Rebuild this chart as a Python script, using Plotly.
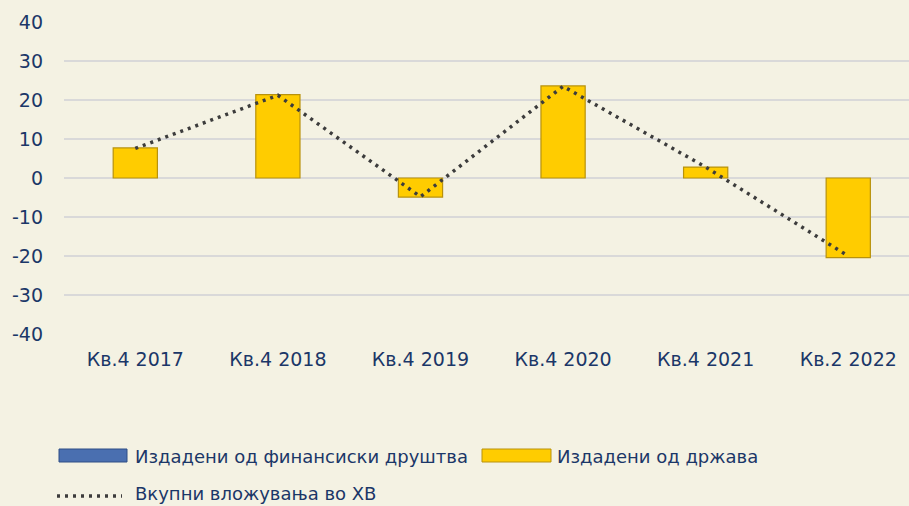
import plotly.graph_objects as go

# data
categories = ["Кв.4 2017", "Кв.4 2018", "Кв.4 2019", "Кв.4 2020", "Кв.4 2021", "Кв.2 2022"]
financial = [0, 0, 0, 0, 0, 0]
government = [7.7, 21.4, -4.9, 23.6, 2.8, -20.4]
total = [7.6, 21.2, -4.8, 23.5, 2.8, -20.0]
y_ticks = [-40, -30, -20, -10, 0, 10, 20, 30, 40]
y_tick_text = ["-40", "-30", "-20", "-10", "0", "10", "20", "30", "40"]

name_fin = "Издадени од финансиски друштва"
name_gov = "Издадени од држава"
name_total = "Вкупни вложувања во ХВ"

BG = "#F4F2E3"
TXT = "#1B3768"
FONT = "DejaVu Sans"
DOTS = "3px,5px"

fig = go.Figure()
fig.add_trace(go.Bar(
    x=categories, y=financial, name=name_fin,
    marker=dict(color="#4472C4", line=dict(width=0)),
    width=0.31, showlegend=False,
))
fig.add_trace(go.Bar(
    x=categories, y=government, name=name_gov,
    marker=dict(color="#FFCC00", line=dict(color="#B8920C", width=1.2)),
    width=0.31, showlegend=False,
))
fig.add_trace(go.Scatter(
    x=categories, y=total, name=name_total, mode="lines",
    line=dict(color="#3C3C3C", width=3.5, dash=DOTS),
    showlegend=False,
))


def py(px_y):
    # pixel row -> paper y (plot area is rows 22..334)
    return (334 - px_y) / 312


def px(px_x):
    # pixel column -> paper x (plot area starts at column 64, 845 wide)
    return (px_x - 64) / 845


# hand-built legend to match the wide swatches of the original
shapes = [
    dict(type="rect", xref="paper", yref="paper", x0=px(59), x1=px(127),
         y0=py(462), y1=py(449),
         fillcolor="#4A6FB0", line=dict(color="#2F4F86", width=1)),
    dict(type="rect", xref="paper", yref="paper", x0=px(482), x1=px(551),
         y0=py(462), y1=py(449),
         fillcolor="#FFCC00", line=dict(color="#B8920C", width=1)),
    dict(type="line", xref="paper", yref="paper", x0=px(57), x1=px(122),
         y0=py(496), y1=py(496),
         line=dict(color="#3C3C3C", width=3.5, dash=DOTS)),
]
legend_font = dict(size=18, color=TXT, family=FONT)
annotations = [
    dict(text=name_fin, xref="paper", yref="paper", x=px(133), y=py(456),
         xanchor="left", yanchor="middle", showarrow=False, font=legend_font),
    dict(text=name_gov, xref="paper", yref="paper", x=px(555), y=py(456),
         xanchor="left", yanchor="middle", showarrow=False, font=legend_font),
    dict(text=name_total, xref="paper", yref="paper", x=px(133), y=py(493),
         xanchor="left", yanchor="middle", showarrow=False, font=legend_font),
]

fig.update_layout(
    width=909, height=506,
    margin=dict(l=64, r=0, t=22, b=172),
    paper_bgcolor=BG, plot_bgcolor=BG,
    font=dict(family=FONT, size=19, color=TXT),
    barmode="relative",
    shapes=shapes, annotations=annotations,
    xaxis=dict(range=[-0.5, 5.426], showgrid=False, showline=False,
               ticks="", ticklabelstandoff=12),
    yaxis=dict(range=[-40, 40], tickvals=y_ticks, ticktext=y_tick_text,
               gridcolor="#D9D9D9", gridwidth=2,
               zeroline=True, zerolinecolor="#D9D9D9", zerolinewidth=2,
               showline=False, ticks="", ticklabelstandoff=20),
)

fig.write_html("out.html", config={"displayModeBar": False},
               post_script="document.body.style.margin='0';")
